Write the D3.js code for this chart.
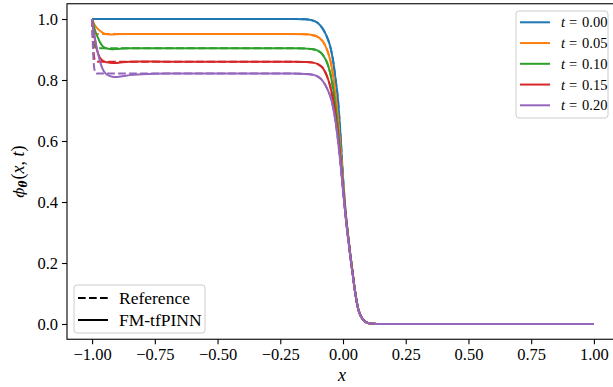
<!DOCTYPE html>
<html>
<head>
<meta charset="utf-8">
<script src="https://cdn.jsdelivr.net/npm/d3@7/dist/d3.min.js"></script>
<style>
  html, body { margin: 0; padding: 0; background: #fff; }
  svg { display: block; }
  text { font-family: "Liberation Serif", "DejaVu Serif", serif; fill: #000; }
</style>
</head>
<body>
<svg id="chart" width="613" height="387"></svg>
<script>
// Spatial grid (x) shared by every profile
const xs = [-1, -0.995, -0.99, -0.985, -0.98, -0.97, -0.96, -0.95, -0.94, -0.92,
  -0.90, -0.88, -0.85, -0.80, -0.70, -0.60, -0.50, -0.40, -0.30, -0.20,
  -0.15, -0.12, -0.10, -0.08, -0.06, -0.05, -0.04, -0.03, -0.02, -0.01,
  0.00, 0.01, 0.02, 0.03, 0.04, 0.05, 0.06, 0.07, 0.08, 0.09,
  0.10, 0.12, 0.15, 0.20, 0.30, 0.40, 0.50, 0.60, 0.70, 0.80, 0.90, 1.00];

// Time labels of the snapshots
const times = ["0.00", "0.05", "0.10", "0.15", "0.20"];

// FM-tfPINN predictions (solid lines)
const pinnT000 = [1,1,1,1,1, 1,1,1,1,1, 1,1,1,1,1, 1,1,1,1,1,
  0.999,0.995,0.987,0.967,0.933, 0.907,0.866,0.805,0.735,0.62,
  0.48,0.372,0.292,0.224,0.158, 0.098,0.052,0.028,0.014,0.007,
  0.003,0.001,0,0,0, 0,0,0,0,0, 0,0];
const pinnT005 = [1,0.99,0.981,0.975,0.97, 0.962,0.956,0.952,0.95,0.949,
  0.95,0.951,0.951,0.951,0.951, 0.951,0.951,0.951,0.951,0.951,
  0.95,0.947,0.941,0.926,0.891, 0.862,0.818,0.752,0.675,0.575,
  0.465,0.368,0.29,0.222,0.157, 0.097,0.052,0.028,0.014,0.007,
  0.003,0.001,0,0,0, 0,0,0,0,0, 0,0];
const pinnT010 = [1,0.985,0.968,0.955,0.945, 0.926,0.913,0.906,0.903,0.901,
  0.902,0.903,0.904,0.904,0.904, 0.904,0.904,0.904,0.904,0.904,
  0.903,0.901,0.896,0.882,0.849, 0.819,0.775,0.712,0.64,0.55,
  0.455,0.364,0.288,0.22,0.156, 0.096,0.052,0.028,0.014,0.007,
  0.003,0.001,0,0,0, 0,0,0,0,0, 0,0];
const pinnT015 = [1,0.965,0.94,0.915,0.897, 0.875,0.865,0.86,0.858,0.856,
  0.856,0.858,0.86,0.861,0.86, 0.86,0.86,0.86,0.86,0.86,
  0.859,0.857,0.852,0.839,0.804, 0.776,0.737,0.684,0.615,0.535,
  0.445,0.36,0.285,0.218,0.155, 0.095,0.051,0.027,0.014,0.007,
  0.003,0.001,0,0,0, 0,0,0,0,0, 0,0];
const pinnT020 = [1,0.966,0.942,0.92,0.9, 0.866,0.84,0.825,0.817,0.811,
  0.81,0.812,0.816,0.819,0.821, 0.821,0.821,0.821,0.821,0.821,
  0.82,0.817,0.811,0.796,0.766, 0.745,0.712,0.665,0.602,0.525,
  0.44,0.355,0.282,0.215,0.153, 0.095,0.051,0.027,0.014,0.007,
  0.003,0.001,0,0,0, 0,0,0,0,0, 0,0];

// Reference solution (dashed lines)
const refT000 = [1,1,1,1,1, 1,1,1,1,1, 1,1,1,1,1, 1,1,1,1,1,
  0.999,0.995,0.987,0.967,0.933, 0.907,0.866,0.805,0.735,0.62,
  0.48,0.372,0.292,0.224,0.158, 0.098,0.052,0.028,0.014,0.007,
  0.003,0.001,0,0,0, 0,0,0,0,0, 0,0];
const refT005 = [1,0.965,0.955,0.952,0.951, 0.951,0.951,0.951,0.951,0.951,
  0.951,0.951,0.951,0.951,0.951, 0.951,0.951,0.951,0.951,0.951,
  0.95,0.947,0.941,0.926,0.891, 0.862,0.818,0.752,0.675,0.575,
  0.465,0.368,0.29,0.222,0.157, 0.097,0.052,0.028,0.014,0.007,
  0.003,0.001,0,0,0, 0,0,0,0,0, 0,0];
const refT010 = [1,0.93,0.91,0.905,0.904, 0.904,0.904,0.904,0.904,0.904,
  0.904,0.904,0.904,0.904,0.904, 0.904,0.904,0.904,0.904,0.904,
  0.903,0.901,0.896,0.882,0.849, 0.819,0.775,0.712,0.64,0.55,
  0.455,0.364,0.288,0.22,0.156, 0.096,0.052,0.028,0.014,0.007,
  0.003,0.001,0,0,0, 0,0,0,0,0, 0,0];
const refT015 = [1,0.9,0.868,0.862,0.861, 0.86,0.86,0.86,0.86,0.86,
  0.86,0.86,0.86,0.86,0.86, 0.86,0.86,0.86,0.86,0.86,
  0.859,0.857,0.852,0.839,0.804, 0.776,0.737,0.684,0.615,0.535,
  0.445,0.36,0.285,0.218,0.155, 0.095,0.051,0.027,0.014,0.007,
  0.003,0.001,0,0,0, 0,0,0,0,0, 0,0];
const refT020 = [1,0.875,0.832,0.822,0.821, 0.821,0.821,0.821,0.821,0.821,
  0.821,0.821,0.821,0.821,0.821, 0.821,0.821,0.821,0.821,0.821,
  0.82,0.817,0.811,0.796,0.766, 0.745,0.712,0.665,0.602,0.525,
  0.44,0.355,0.282,0.215,0.153, 0.095,0.051,0.027,0.014,0.007,
  0.003,0.001,0,0,0, 0,0,0,0,0, 0,0];

const xTicks = [-1.0, -0.75, -0.5, -0.25, 0.0, 0.25, 0.5, 0.75, 1.0];
const yTicks = [0.0, 0.2, 0.4, 0.6, 0.8, 1.0];

const colors = ["#1f77b4", "#ff7f0e", "#2ca02c", "#d62728", "#9467bd"];
const pinnSeries = [pinnT000, pinnT005, pinnT010, pinnT015, pinnT020];
const refSeries = [refT000, refT005, refT010, refT015, refT020];

// Plot area
const plot = { left: 67, right: 619, top: 3.75, bottom: 339.25 };
const svg = d3.select("#chart");
svg.append("rect").attr("width", 613).attr("height", 387).attr("fill", "#fff");

const x = d3.scaleLinear().domain([-1.1, 1.1]).range([plot.left, plot.right]);
const y = d3.scaleLinear().domain([-0.05, 1.05]).range([plot.bottom, plot.top]);

const lw = 2.0;
const line = vals => d3.line()
  .x((d, i) => x(xs[i]))
  .y(d => y(d))
  .curve(d3.curveMonotoneX)(vals);

const curves = svg.append("g");
refSeries.forEach((vals, k) => {
  curves.append("path")
    .attr("d", line(vals))
    .attr("fill", "none")
    .attr("stroke", colors[k])
    .attr("stroke-width", lw)
    .attr("stroke-dasharray", "7.7,3.3");
  curves.append("path")
    .attr("d", line(pinnSeries[k]))
    .attr("fill", "none")
    .attr("stroke", colors[k])
    .attr("stroke-width", lw)
    .attr("stroke-linejoin", "round");
});

// Axes
const tickFont = 16.5;
const xAxis = svg.append("g")
  .attr("transform", `translate(0,${plot.bottom})`)
  .call(d3.axisBottom(x).tickValues(xTicks).tickFormat(d3.format(".2f"))
    .tickSize(5).tickPadding(4));
const yAxis = svg.append("g")
  .attr("transform", `translate(${plot.left},0)`)
  .call(d3.axisLeft(y).tickValues(yTicks).tickFormat(d3.format(".1f"))
    .tickSize(5).tickPadding(4));
[xAxis, yAxis].forEach(g => {
  g.select(".domain").remove();
  g.selectAll(".tick line").attr("stroke", "#000").attr("stroke-width", 1.1);
  g.selectAll(".tick text")
    .attr("font-family", "Liberation Serif")
    .attr("font-size", tickFont)
    .attr("fill", "#000");
});

// Frame
svg.append("rect")
  .attr("x", plot.left).attr("y", plot.top)
  .attr("width", plot.right - plot.left).attr("height", plot.bottom - plot.top)
  .attr("fill", "none").attr("stroke", "#000").attr("stroke-width", 1.1);

// Axis labels
svg.append("text")
  .attr("x", (plot.left + plot.right) / 2 - 1).attr("y", 381)
  .attr("text-anchor", "middle")
  .attr("font-size", 18).attr("font-style", "italic")
  .text("x");

const yl = svg.append("text")
  .attr("transform", `translate(24,${(plot.top + plot.bottom) / 2}) rotate(-90)`)
  .attr("text-anchor", "middle")
  .attr("font-size", 18);
yl.append("tspan").attr("font-family", "DejaVu Serif").attr("font-style", "italic")
  .attr("font-size", 15).text("ϕ");
yl.append("tspan").attr("font-family", "DejaVu Serif").attr("font-style", "italic")
  .attr("font-weight", "bold").attr("font-size", 10.5).attr("dy", 3).text("θ");
yl.append("tspan").attr("dy", -3).attr("dx", 1).text("(");
yl.append("tspan").attr("font-style", "italic").text("x");
yl.append("tspan").text(", ");
yl.append("tspan").attr("font-style", "italic").text("t");
yl.append("tspan").text(")");

// Legend: time snapshots
const lg1 = svg.append("g");
lg1.append("rect")
  .attr("x", 516).attr("y", 11).attr("width", 92).attr("height", 107)
  .attr("rx", 3).attr("fill", "#fff").attr("fill-opacity", 0.8)
  .attr("stroke", "#cccccc").attr("stroke-width", 1);
times.forEach((t, k) => {
  const yy = 22.3 + k * 20.75;
  lg1.append("line")
    .attr("x1", 520).attr("x2", 550).attr("y1", yy).attr("y2", yy)
    .attr("stroke", colors[k]).attr("stroke-width", lw);
  const tx = lg1.append("text").attr("y", yy + 5).attr("font-size", 14.5);
  tx.append("tspan").attr("x", 561).attr("font-style", "italic").text("t");
  tx.append("tspan").attr("x", 569).text("=");
  tx.append("tspan").attr("x", 582).text(t);
});

// Legend: line styles
const lg2 = svg.append("g");
lg2.append("rect")
  .attr("x", 74).attr("y", 285).attr("width", 131).attr("height", 48)
  .attr("rx", 3).attr("fill", "#fff").attr("fill-opacity", 0.8)
  .attr("stroke", "#cccccc").attr("stroke-width", 1);
[["Reference", "7.7,3.3"], ["FM-tfPINN", null]].forEach(([name, dash], k) => {
  const yy = 298 + k * 22;
  const l = lg2.append("line")
    .attr("x1", 78).attr("x2", 108).attr("y1", yy).attr("y2", yy)
    .attr("stroke", "#000").attr("stroke-width", lw);
  if (dash) l.attr("stroke-dasharray", dash);
  lg2.append("text")
    .attr("x", 119).attr("y", yy + 5.5)
    .attr("font-size", 17.5)
    .text(name);
});
</script>
</body>
</html>
